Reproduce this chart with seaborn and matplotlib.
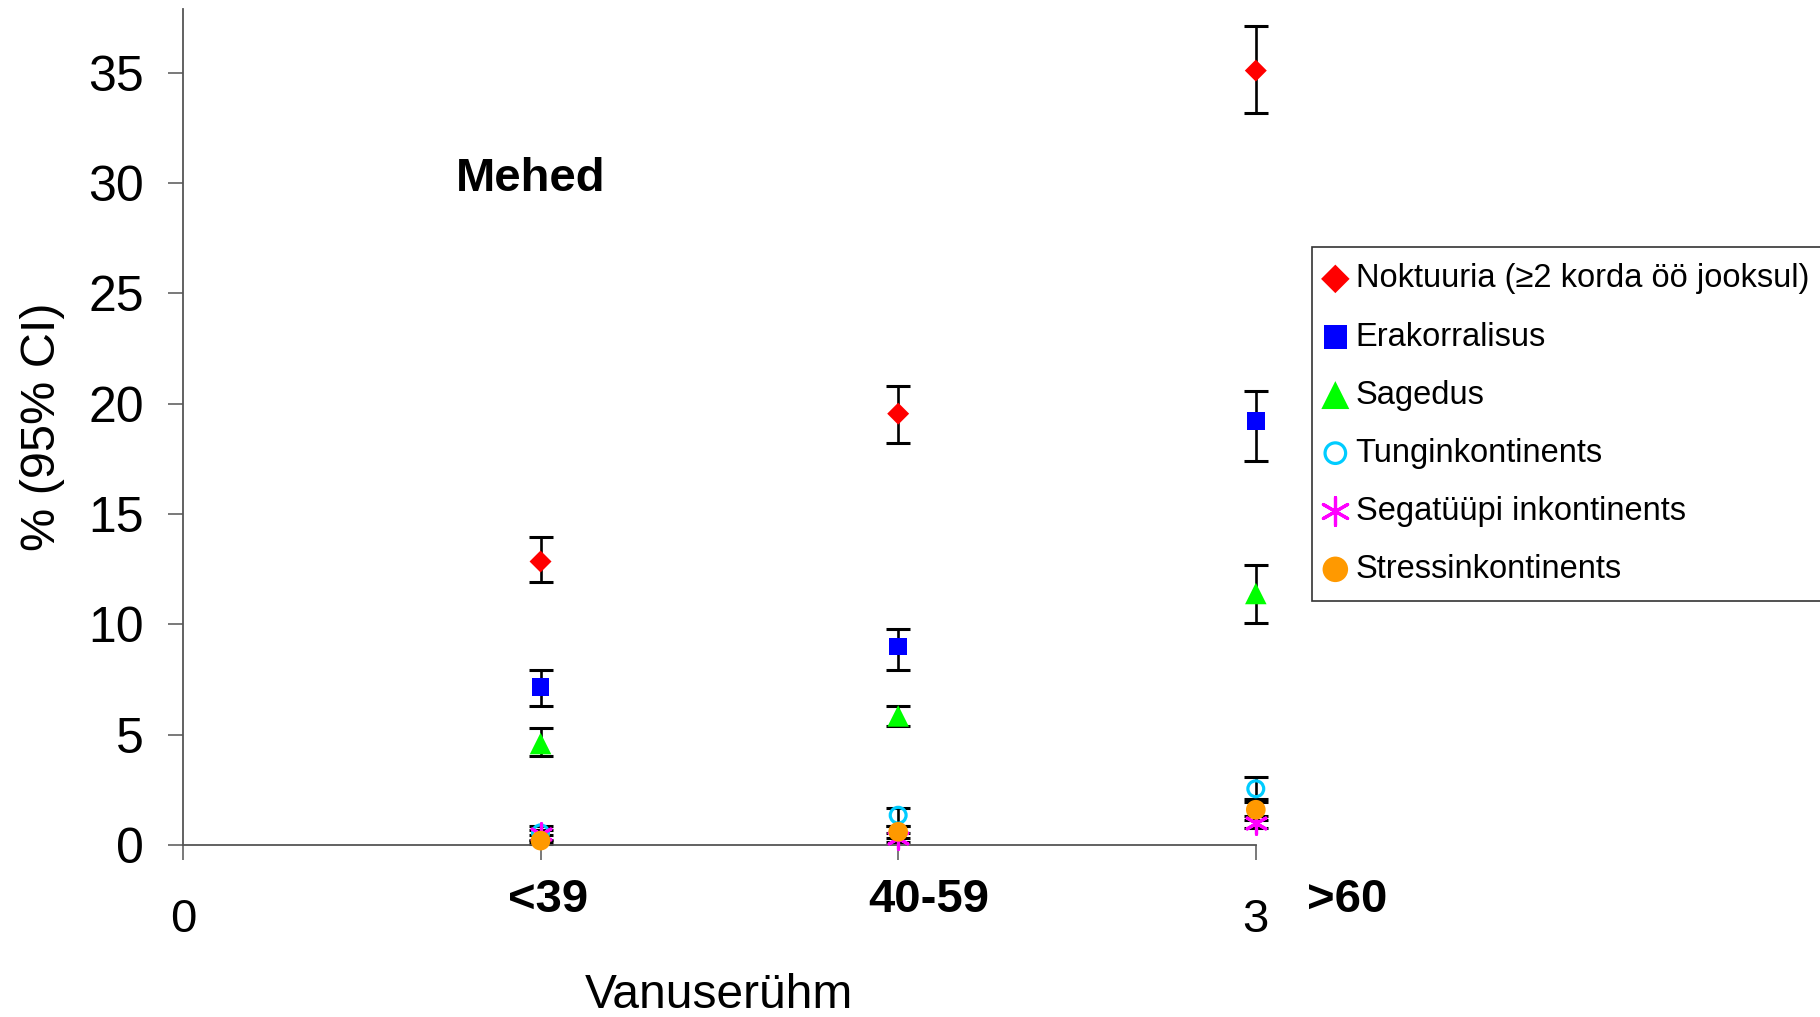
import matplotlib
matplotlib.use("Agg")
import matplotlib.pyplot as plt
import seaborn as sns
import numpy as np

# ---- data ----
categories = ['<39', '40-59', '>60']
xpos = [1, 2, 3]

series_names = ['Noktuuria (≥2 korda öö jooksul)', 'Erakorralisus', 'Sagedus',
                'Tunginkontinents', 'Segatüüpi inkontinents', 'Stressinkontinents']

noktuuria = [12.85, 19.55, 35.1]
noktuuria_lo = [11.9, 18.2, 33.2]
noktuuria_hi = [13.95, 20.8, 37.1]

erakorralisus = [7.15, 9.0, 19.2]
erakorralisus_lo = [6.3, 7.95, 17.4]
erakorralisus_hi = [7.95, 9.8, 20.6]

sagedus = [4.6, 5.85, 11.4]
sagedus_lo = [4.05, 5.4, 10.05]
sagedus_hi = [5.3, 6.3, 12.7]

tung = [0.55, 1.35, 2.55]
tung_lo = [0.25, 0.85, 1.95]
tung_hi = [0.85, 1.7, 3.1]

segatuupi = [0.5, 0.3, 1.0]
segatuupi_lo = [0.2, 0.15, 0.75]
segatuupi_hi = [0.7, 0.55, 1.3]

stress = [0.2, 0.6, 1.6]
stress_lo = [0.05, 0.3, 1.15]
stress_hi = [0.45, 0.85, 2.1]

# ---- style ----
sns.set_style("ticks")
plt.rcParams['font.family'] = ['Liberation Sans', 'DejaVu Sans']
plt.rcParams['text.color'] = 'black'
plt.rcParams['axes.labelcolor'] = 'black'
plt.rcParams['xtick.color'] = 'black'
plt.rcParams['ytick.color'] = 'black'

fig = plt.figure(figsize=(18.2, 10.17), dpi=100)
ax = fig.add_axes([0.1005, 0.1691, 0.5895, 0.8218])

series = [
    (noktuuria, noktuuria_lo, noktuuria_hi, dict(marker='D', color='#FF0000', s=125)),
    (erakorralisus, erakorralisus_lo, erakorralisus_hi, dict(marker='s', color='#0000FF', s=165)),
    (sagedus, sagedus_lo, sagedus_hi, dict(marker='^', color='#00FF00', s=240)),
    (tung, tung_lo, tung_hi, dict(marker='o', facecolors='none', edgecolors='#00CCFF', s=130, linewidths=2.3)),
    (segatuupi, segatuupi_lo, segatuupi_hi, dict(marker=(6, 2, 0), color='#FF00FF', s=240, linewidths=2.3)),
    (stress, stress_lo, stress_hi, dict(marker='o', color='#FF9900', s=200)),
]

for name, (vals, lo, hi, kw) in zip(series_names, series):
    v = np.array(vals)
    yerr = np.vstack([v - np.array(lo), np.array(hi) - v])
    eb = ax.errorbar(xpos, v, yerr=yerr, fmt='none', ecolor='black', elinewidth=1.9,
                     capsize=8.5, capthick=2.2, zorder=2)
    for art in list(eb.lines[1]) + list(eb.lines[2]):
        art.set_clip_on(False)

for name, (vals, lo, hi, kw) in zip(series_names, series):
    kw = dict(kw)
    if kw.get('facecolors') == 'none':
        coll = ax.scatter(xpos, vals, label=name, zorder=3, **kw)
        coll.set_clip_on(False)
    else:
        sns.scatterplot(x=xpos, y=vals, ax=ax, label=name, zorder=3,
                        edgecolor='none' if kw['marker'] != (6, 2, 0) else None, **kw)
        ax.collections[-1].set_clip_on(False)

ax.set_xlim(0, 3)
ax.set_ylim(0, 37.88)
ax.set_yticks(range(0, 36, 5))
ax.set_xticks([0, 1, 2, 3])
ax.set_xticklabels(['0', '', '', '3'])
ax.tick_params(axis='y', labelsize=36, length=11, width=1.1, color='#555555', pad=17)
ax.tick_params(axis='x', labelsize=34, length=11, width=1.1, color='#555555', pad=27)
for sp in ['top', 'right']:
    ax.spines[sp].set_visible(False)
for sp in ['left', 'bottom']:
    ax.spines[sp].set_color('#555555')
    ax.spines[sp].set_linewidth(1.3)

ax.set_ylabel('% (95% CI)', fontsize=35)
ax.yaxis.set_label_coords(-0.11, 0.5)
ax.set_xlabel('Vanuserühm', fontsize=34.5)
ax.xaxis.set_label_coords(0.5, -0.153)

# category labels (bold, shifted right as in the reference)
offsets = [0.02, 0.085, 0.255]
for xp, off, lab in zip(xpos, offsets, categories):
    ax.text(xp + off, -2.5, lab, fontsize=34, fontweight='bold', ha='center', va='center',
            clip_on=False)

ax.text(0.972, 30.2, 'Mehed', fontsize=34, fontweight='bold', ha='center', va='center')

leg = ax.legend(loc='upper left', bbox_to_anchor=(0.7207, 0.757), bbox_transform=fig.transFigure,
                fontsize=23.5, frameon=True, fancybox=False, framealpha=1, edgecolor='#333333',
                borderpad=0.5, labelspacing=0.83, handlelength=0.45, handletextpad=0.4,
                borderaxespad=0, markerscale=1.3)
leg.get_frame().set_linewidth(1.2)

fig.savefig('out.png', dpi=100)
